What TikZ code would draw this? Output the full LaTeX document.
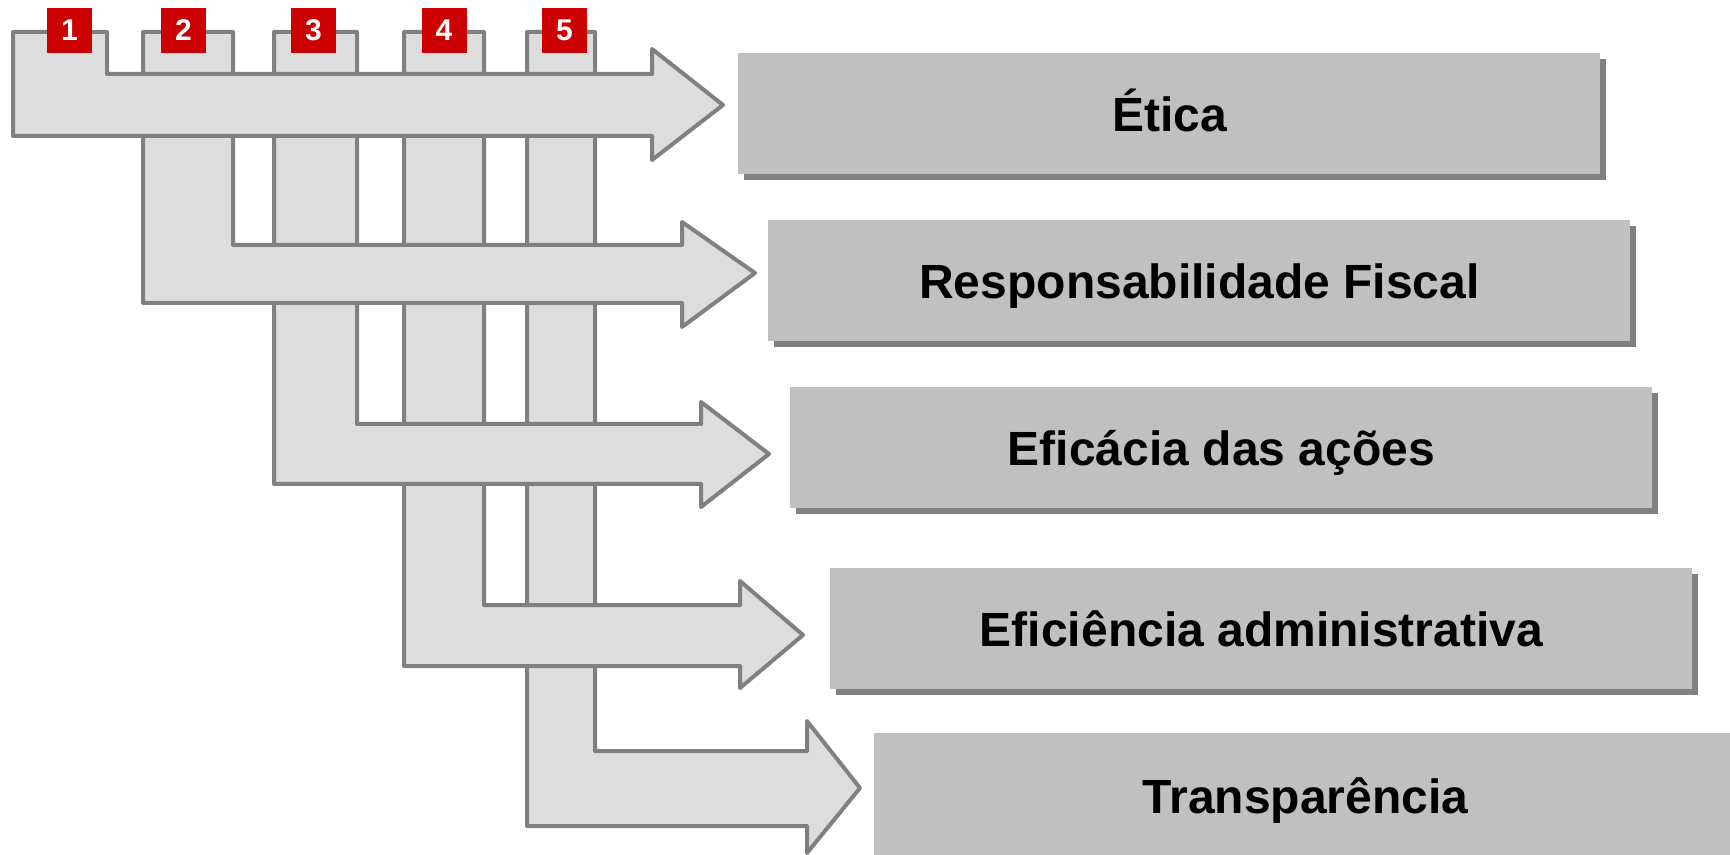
\documentclass[tikz,border=0pt]{standalone}
\usepackage{fontspec}
\setmainfont{Liberation Sans}
\usetikzlibrary{shadows}
\definecolor{arrfill}{HTML}{DDDDDD}
\definecolor{arrline}{HTML}{808080}
\definecolor{boxfill}{HTML}{C0C0C0}
\definecolor{shadowgray}{HTML}{808080}
\definecolor{numred}{HTML}{CC0000}
\tikzset{
  bigarrow/.style={fill=arrfill, draw=arrline, line width=2pt, line join=round},
  topicbox/.style={fill=boxfill, draw=none, inner sep=0pt, anchor=north west,
    minimum width=431pt, minimum height=60.5pt, text height=17.5pt, text depth=0pt,
    general shadow={fill=shadowgray, shadow xshift=3pt, shadow yshift=-3pt},
    font=\fontsize{24}{28}\selectfont\bfseries},
  numbox/.style={fill=numred, draw=none, inner sep=0pt, minimum size=22.5pt,
    text=white, font=\fontsize{15}{18}\selectfont\bfseries}
}
\begin{document}
\begin{tikzpicture}[x=0.5pt,y=-0.5pt]
\useasboundingbox (0,0) rectangle (1730,855);
\clip (0,0) rectangle (1730,855);
% arrows, bottom first
\draw[bigarrow] (527,32) -- (595,32) -- (595,751) -- (807,751) -- (807,721) -- (860,788) -- (807,853) -- (807,826) -- (527,826) -- cycle;
\draw[bigarrow] (404,32) -- (484,32) -- (484,605) -- (740,605) -- (740,581) -- (803,635) -- (740,688) -- (740,666) -- (404,666) -- cycle;
\draw[bigarrow] (274,32) -- (357,32) -- (357,424) -- (701,424) -- (701,402) -- (769,454) -- (701,507) -- (701,484) -- (274,484) -- cycle;
\draw[bigarrow] (143,32) -- (233,32) -- (233,245) -- (682,245) -- (682,222) -- (755,273) -- (682,327) -- (682,303) -- (143,303) -- cycle;
\draw[bigarrow] (13,32) -- (107,32) -- (107,74) -- (652,74) -- (652,49) -- (723,105) -- (652,160) -- (652,136) -- (13,136) -- cycle;
% number squares
\node[numbox] (n1) at (69.5,30.5) {1};
\node[numbox] (n2) at (183.5,30.5) {2};
\node[numbox] (n3) at (313.5,30.5) {3};
\node[numbox] (n4) at (444,30.5) {4};
\node[numbox] (n5) at (564.5,30.5) {5};
% topic boxes
\node[topicbox] (b1) at (738,53) {Ética};
\node[topicbox] (b2) at (768,220) {Responsabilidade Fiscal};
\node[topicbox] (b3) at (790,387) {Eficácia das ações};
\node[topicbox] (b4) at (830,568) {Eficiência administrativa};
\node[topicbox, minimum height=63pt] (b5) at (874,733) {Transparência};
\end{tikzpicture}
\end{document}
